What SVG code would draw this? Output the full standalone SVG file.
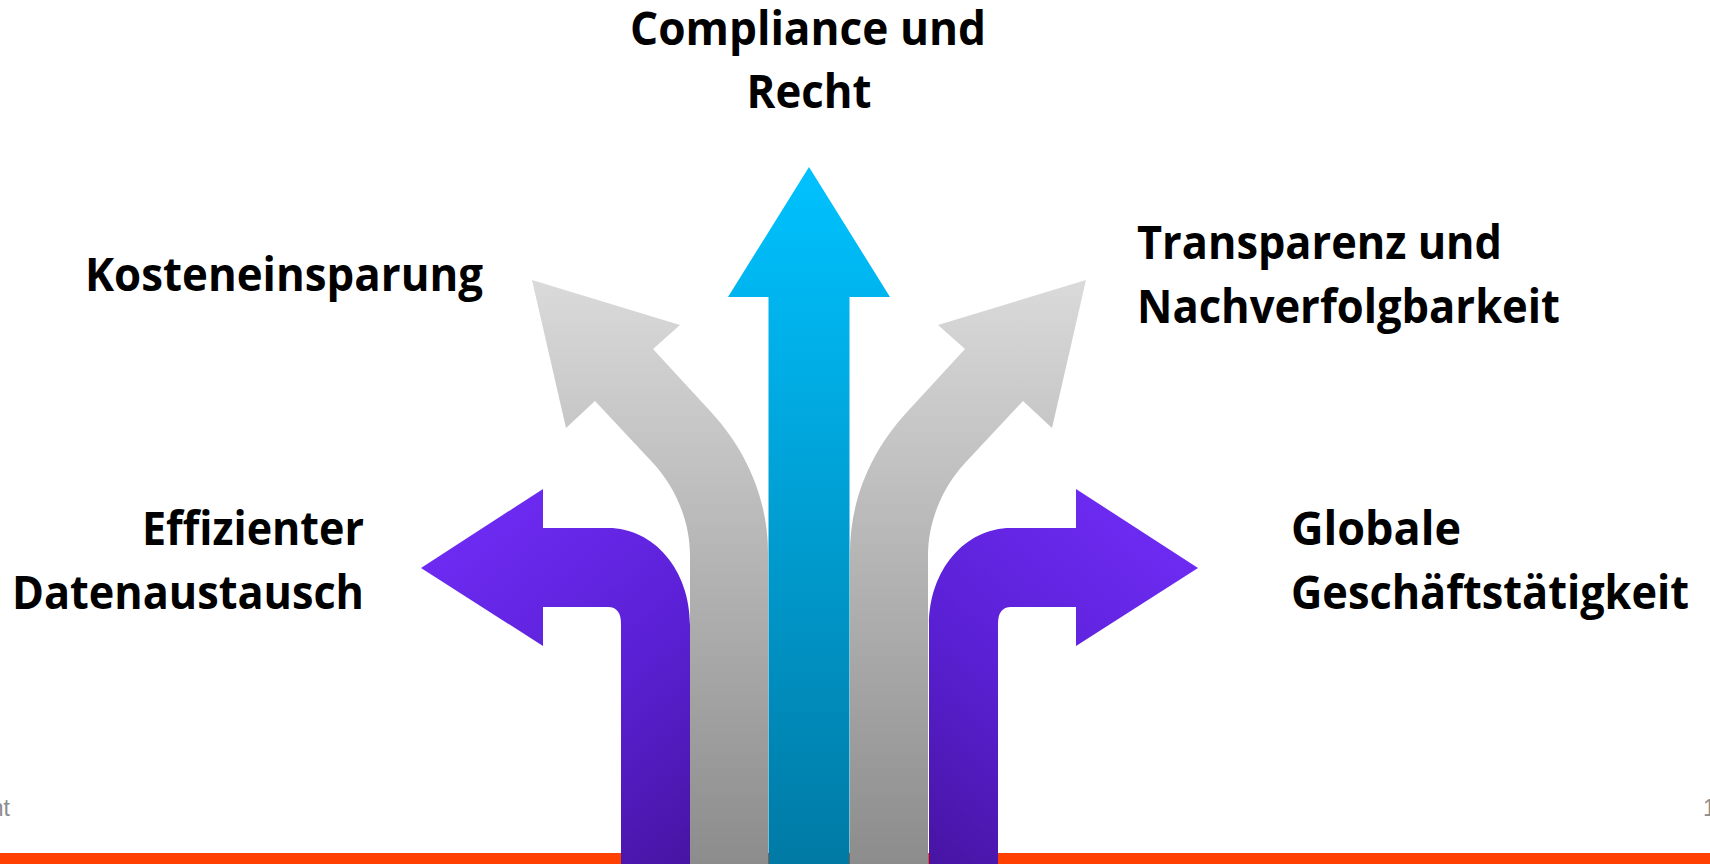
<svg xmlns="http://www.w3.org/2000/svg" width="1710" height="864" viewBox="0 0 1710 864">
<style>
.l{font-family:"Open Sans","Noto Sans","Liberation Sans",sans-serif;font-weight:700;font-size:46px;fill:#000}
.f{font-family:"Liberation Sans",sans-serif;font-size:23px;fill:#8c8c8c}
</style>
<defs>
<linearGradient id="gb" gradientUnits="userSpaceOnUse" x1="0" y1="167" x2="0" y2="864"><stop offset="0" stop-color="#00c2ff"/><stop offset="1" stop-color="#007aa5"/></linearGradient>
<linearGradient id="gg" gradientUnits="userSpaceOnUse" x1="0" y1="280" x2="0" y2="864"><stop offset="0" stop-color="#dadada"/><stop offset="1" stop-color="#8c8c8c"/></linearGradient>
<linearGradient id="gl" gradientUnits="userSpaceOnUse" x1="470" y1="500" x2="760" y2="850"><stop offset="0" stop-color="#6f2cf5"/><stop offset="0.5" stop-color="#5a20d4"/><stop offset="1" stop-color="#44129a"/></linearGradient>
<linearGradient id="gr" gradientUnits="userSpaceOnUse" x1="1148" y1="500" x2="858" y2="850"><stop offset="0" stop-color="#6f2cf5"/><stop offset="0.5" stop-color="#5a20d4"/><stop offset="1" stop-color="#44129a"/></linearGradient>
</defs>
<rect width="1710" height="864" fill="#fff"/>
<rect id="bar" x="0" y="853" width="1710" height="11" fill="#ff4000"/>
<text class="f" x="10" y="816" text-anchor="end">nt</text>
<text class="f" x="1703" y="816">1</text>
<g id="arrow-kosten"><path fill="url(#gg)" d="M532 280L680 325L653 349L711 412C748 452 768 502 768 552V864H690V556C690 520 675 487 653 463L595 401L566 428Z"/></g>
<g id="arrow-transparenz"><path fill="url(#gg)" d="M1086 280L938 325L965 349L907 412C870 452 850 502 850 552V864H928V556C928 520 943 487 965 463L1023 401L1052 428Z"/></g>
<g id="arrow-compliance"><path fill="url(#gb)" d="M809 167L890 297H849.500V864H768.500V297H728Z"/></g>
<g id="arrow-effizient"><path fill="url(#gl)" d="M421 568L543 489V528H608C654 528 690 570 690 625V864H621V624Q621 607 608 607H543V646Z"/></g>
<g id="arrow-global"><path fill="url(#gr)" d="M1198 568L1076 489V528H1011C965 528 929 570 929 625V864H998V624Q998 607 1011 607H1076V646Z"/></g>
<g id="label-compliance"><text class="l" x="808" y="45" text-anchor="middle" textLength="356" lengthAdjust="spacingAndGlyphs">Compliance und</text><text class="l" x="809" y="108" text-anchor="middle" textLength="125" lengthAdjust="spacingAndGlyphs">Recht</text></g>
<g id="label-kosten"><text class="l" x="85" y="291" textLength="398" lengthAdjust="spacingAndGlyphs">Kosteneinsparung</text></g>
<g id="label-transparenz"><text class="l" x="1137" y="259" textLength="365" lengthAdjust="spacingAndGlyphs">Transparenz und</text><text class="l" x="1137" y="323" textLength="423" lengthAdjust="spacingAndGlyphs">Nachverfolgbarkeit</text></g>
<g id="label-effizient"><text class="l" x="364" y="545" text-anchor="end" textLength="222" lengthAdjust="spacingAndGlyphs">Effizienter</text><text class="l" x="364" y="609" text-anchor="end" textLength="352" lengthAdjust="spacingAndGlyphs">Datenaustausch</text></g>
<g id="label-global"><text class="l" x="1291" y="545" textLength="170" lengthAdjust="spacingAndGlyphs">Globale</text><text class="l" x="1291" y="609" textLength="398" lengthAdjust="spacingAndGlyphs">Geschäftstätigkeit</text></g>
</svg>
